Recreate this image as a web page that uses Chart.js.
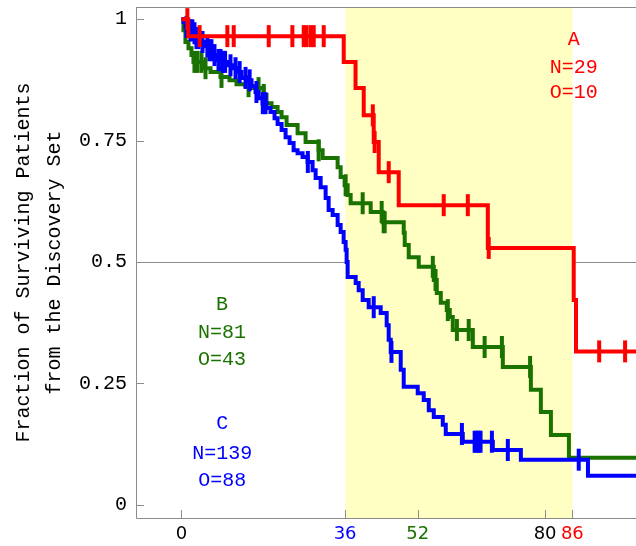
<!DOCTYPE html>
<html>
<head>
<meta charset="utf-8">
<script src="https://cdn.jsdelivr.net/npm/chart.js@4"></script>
<style>
  body { margin: 0; background: #fff; }
  canvas { display: block; }
</style>
</head>
<body>
<canvas id="kmPlot" width="636" height="546"></canvas>
<script>
// group A (red)
var aTimes = [0, 1.5, 35.7, 38.3, 40.1, 42.3, 43.4, 47.8, 67.4, 86.3, 86.8, 100];
var aSurv = [1, 0.965, 0.912, 0.858, 0.802, 0.747, 0.685, 0.617, 0.529, 0.422, 0.316, 0.316];
var aCensor = [1.3, 4.0, 10.1, 11.5, 19.2, 24.4, 26.9, 27.5, 28.4, 29.1, 31.3, 42.1, 42.5, 45.6, 57.7, 63.0, 67.6, 91.9, 97.6];

// group B (green)
var bTimes = [0, 0.44, 0.88, 1.54, 2.2, 2.64, 4.85, 6.39, 8.59, 10.57, 12.11, 14.1, 15.64, 18.06, 18.72, 19.82,
  21.15, 22.03, 23.13, 25.55, 27.31, 30.18, 31.06, 34.36, 35.02, 35.9, 36.56, 37.22, 41.63, 44.27, 48.9, 49.12,
  50.0, 52.2, 55.51, 56.17, 57.05, 58.37, 59.03, 59.69, 64.1, 70.7, 76.87, 79.07, 81.28, 85.24, 100];
var bSurv = [1, 0.977, 0.953, 0.94, 0.926, 0.912, 0.899, 0.891, 0.881, 0.874, 0.866, 0.862, 0.858, 0.844, 0.827, 0.819,
  0.809, 0.798, 0.782, 0.765, 0.747, 0.73, 0.714, 0.695, 0.675, 0.658, 0.638, 0.621, 0.603, 0.582, 0.56, 0.535,
  0.51, 0.49, 0.463, 0.436, 0.416, 0.401, 0.387, 0.36, 0.325, 0.284, 0.237, 0.191, 0.144, 0.097, 0.097];
var bCensor = [2.86, 3.52, 4.41, 5.29, 8.81, 14.76, 16.96, 18.1, 30.18, 36.12, 39.87, 44.05, 44.49, 44.71,
  55.3, 55.9, 58.6, 60.6, 63.2, 66.7, 70.5, 76.7];

// group C (blue)
var cTimes = [0, 0.44, 0.88, 1.54, 2.42, 3.3, 4.19, 5.29, 5.95, 6.83, 7.93, 9.03, 10.13, 11.45, 12.33, 13.22,
  14.54, 15.42, 16.3, 16.96, 17.84, 18.72, 19.6, 20.48, 21.15, 22.03, 22.91, 23.79, 24.67, 25.55, 26.65, 27.75,
  28.85, 29.52, 30.62, 31.72, 32.38, 33.26, 34.36, 35.02, 35.68, 36.12, 36.34, 36.56, 38.33, 38.99, 39.87, 41.19,
  43.83, 45.15, 45.59, 46.04, 48.24, 48.9, 51.98, 53.3, 54.41, 55.51, 57.49, 58.15, 61.89, 68.5, 74.67, 89.43, 100];
var cSurv = [1, 0.994, 0.984, 0.977, 0.971, 0.961, 0.953, 0.944, 0.936, 0.926, 0.916, 0.912, 0.905, 0.899, 0.891, 0.879,
  0.874, 0.862, 0.85, 0.837, 0.827, 0.817, 0.809, 0.796, 0.784, 0.772, 0.757, 0.745, 0.73, 0.724, 0.716, 0.706,
  0.689, 0.673, 0.654, 0.632, 0.607, 0.597, 0.576, 0.562, 0.541, 0.525, 0.5, 0.469, 0.457, 0.442, 0.422, 0.407,
  0.395, 0.37, 0.34, 0.315, 0.278, 0.243, 0.23, 0.216, 0.195, 0.181, 0.165, 0.146, 0.13, 0.113, 0.093, 0.06, 0.06];
var cCensor = [1.1, 1.98, 2.4, 2.86, 3.3, 3.74, 4.63, 5.7, 6.17, 6.6, 7.27, 8.15, 8.6, 9.1, 9.6, 10.79, 11.9,
  12.8, 14.1, 15.0, 16.5, 17.9, 18.5, 27.8, 42.3, 46.2, 61.7, 64.5, 64.9, 65.4, 65.8, 68.3, 71.8, 87.4];

var xTickVals = [0, 36, 52, 80, 86];
var xTickColors = ['#000', '#0000ff', '#1a7300', '#000', '#ff0000'];
var yTickVals = [0, 0.25, 0.5, 0.75, 1];

var groupLabels = [
  {lines: ['A', 'N=29', 'O=10'], x: 86.3, y: [0.957, 0.901, 0.848], color: '#ff0000'},
  {lines: ['B', 'N=81', 'O=43'], x: 8.9, y: [0.412, 0.354, 0.298], color: '#1a7300'},
  {lines: ['C', 'N=139', 'O=88'], x: 9.0, y: [0.167, 0.105, 0.049], color: '#0000ff'}
];

var bandFrom = 36, bandTo = 86;

function steps(times, surv) {
  var pts = [];
  for (var i = 0; i < times.length; i++) pts.push({x: times[i], y: surv[i]});
  return pts;
}
function marks(censor, times, surv) {
  var pts = [];
  for (var i = 0; i < censor.length; i++) {
    var lvl = surv[0];
    for (var j = 0; j < times.length; j++) { if (times[j] <= censor[i]) lvl = surv[j]; }
    pts.push({x: censor[i], y: lvl});
  }
  return pts;
}
function curve(pts, color) {
  return {type: 'line', data: pts, borderColor: color, borderWidth: 4, stepped: true,
    pointRadius: 0, fill: false, borderCapStyle: 'butt'};
}
function ticks(pts, color) {
  return {type: 'scatter', data: pts, borderColor: color, backgroundColor: color, borderWidth: 4,
    pointStyle: 'line', rotation: 90, pointRadius: 11, pointHoverRadius: 11};
}

var gray = '#8c8c8c';
var frame = {
  id: 'frame',
  beforeDatasetsDraw: function(chart) {
    var c = chart.ctx, a = chart.chartArea, xs = chart.scales.x, ys = chart.scales.y;
    c.save();
    c.fillStyle = '#ffffc4';
    var x0 = xs.getPixelForValue(bandFrom), x1 = xs.getPixelForValue(bandTo);
    c.fillRect(x0, a.top, x1 - x0, a.bottom - a.top);
    c.strokeStyle = gray;
    c.lineWidth = 1;
    c.beginPath();
    c.moveTo(a.left + 0.5, a.top); c.lineTo(a.left + 0.5, a.bottom + 0.5);
    c.lineTo(a.right, a.bottom + 0.5);
    c.moveTo(a.left, a.top + 0.5); c.lineTo(a.right, a.top + 0.5);
    xTickVals.forEach(function(v) {
      var px = Math.round(xs.getPixelForValue(v)) + 0.5;
      c.moveTo(px, a.bottom); c.lineTo(px, a.bottom - 8);
    });
    yTickVals.forEach(function(v) {
      var py = Math.round(ys.getPixelForValue(v)) + 0.5;
      c.moveTo(a.left, py); c.lineTo(a.left + 8, py);
    });
    c.stroke();
    c.restore();
  },
  afterDatasetsDraw: function(chart) {
    var c = chart.ctx, xs = chart.scales.x, ys = chart.scales.y;
    c.save();
    c.font = "20px 'Liberation Mono'";
    c.textAlign = 'center';
    c.textBaseline = 'middle';
    groupLabels.forEach(function(g) {
      c.fillStyle = g.color;
      g.lines.forEach(function(t, i) {
        c.fillText(t, xs.getPixelForValue(g.x), ys.getPixelForValue(g.y[i]));
      });
    });
    c.restore();
  }
};

new Chart(document.getElementById('kmPlot'), {
  data: {
    datasets: [
      curve(steps(aTimes, aSurv), '#ff0000'),
      ticks(marks(aCensor, aTimes, aSurv), '#ff0000'),
      curve(steps(cTimes, cSurv), '#0000ff'),
      ticks(marks(cCensor, cTimes, cSurv), '#0000ff'),
      curve(steps(bTimes, bSurv), '#1a7300'),
      ticks(marks(bCensor, bTimes, bSurv), '#1a7300')
    ]
  },
  options: {
    responsive: false,
    animation: false,
    layout: {autoPadding: false, padding: {top: 7, right: 0, bottom: 0, left: 0}},
    plugins: {legend: {display: false}, tooltip: {enabled: false}},
    scales: {
      x: {
        type: 'linear', min: -10, max: 100,
        afterBuildTicks: function(s) { s.ticks = xTickVals.map(function(v) { return {value: v}; }); },
        afterFit: function(s) { s.height = 28; s.paddingLeft = 0; s.paddingRight = 0; },
        grid: {display: false, drawTicks: false},
        border: {display: false},
        ticks: {
          autoSkip: false, maxRotation: 0, padding: 6,
          font: {family: "'DejaVu Sans'", size: 18},
          color: function(ctx) { return xTickColors[ctx.index]; },
          callback: function(v) { return String(v); }
        }
      },
      y: {
        type: 'linear', min: -0.027, max: 1.025,
        afterBuildTicks: function(s) { s.ticks = yTickVals.map(function(v) { return {value: v}; }); },
        afterFit: function(s) { s.width = 136; s.paddingTop = 0; s.paddingBottom = 0; },
        grid: {
          drawTicks: false, lineWidth: 1,
          color: function(ctx) { return ctx.tick && ctx.tick.value === 0.5 ? gray : 'rgba(0,0,0,0)'; }
        },
        border: {display: false},
        ticks: {
          padding: 9, color: '#000',
          font: {family: "'Liberation Mono'", size: 20},
          callback: function(v) { return String(v); }
        },
        title: {
          display: true, color: '#000',
          text: ['Fraction of Surviving Patients', 'from the Discovery Set'],
          font: {family: "'Liberation Mono'", size: 20, lineHeight: 1.55},
          padding: {top: 8.5, bottom: 0}
        }
      }
    }
  },
  plugins: [frame]
});
</script>
</body>
</html>
